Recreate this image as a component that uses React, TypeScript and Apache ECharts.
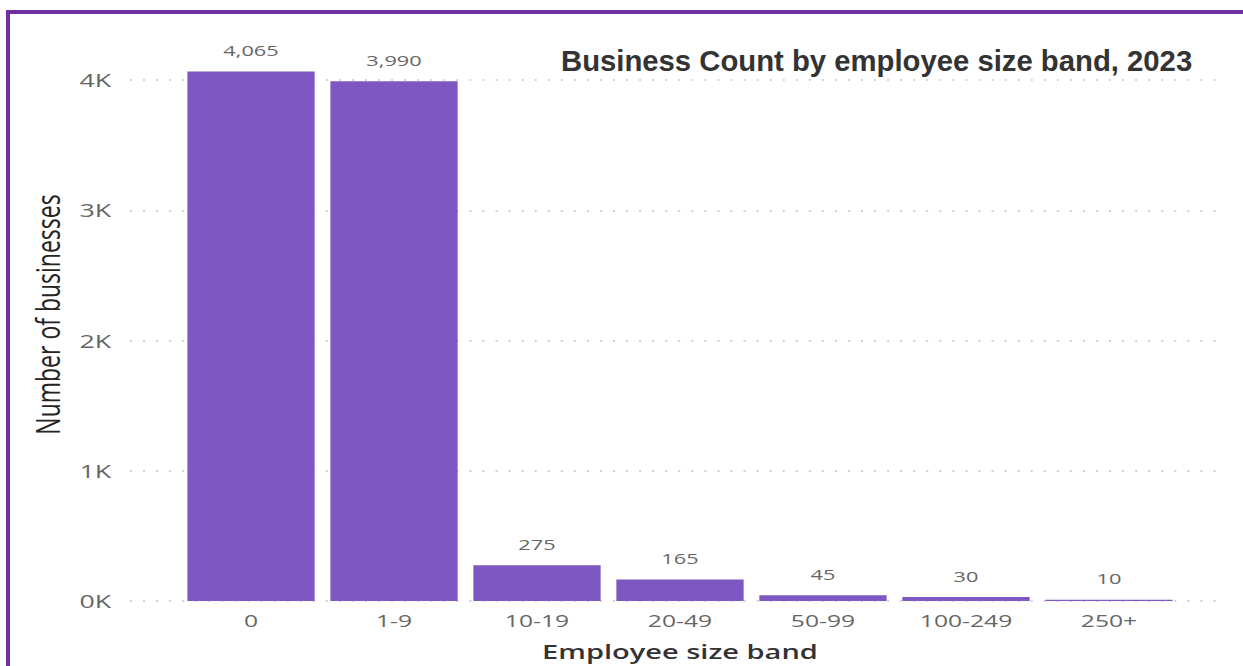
import React, { useEffect, useRef } from "react";
import * as echarts from "echarts";

const categories = ["0", "1-9", "10-19", "20-49", "50-99", "100-249", "250+"];
const businessCounts = [4065, 3990, 275, 165, 45, 30, 10];
const yMin = 0;
const yMax = 4000;
const yInterval = 1000;

const chartTitle = "Business Count by employee size band, 2023";
const xTitle = "Employee size band";
const yTitle = "Number of businesses";

const FULL_W = 1243;
const FULL_H = 666;
const INNER_W = 857;
const S = FULL_W / INNER_W; // horizontal stretch of the original picture
const px = (v: number) => v / S;

export default function App() {
  const ref = useRef<HTMLDivElement>(null);

  useEffect(() => {
    if (!ref.current) return;
    const chart = echarts.init(ref.current, null, { renderer: "svg" });
    const tickFont = "'Segoe UI', 'Open Sans', sans-serif";
    chart.setOption({
      animation: false,
      backgroundColor: "#ffffff",
      grid: [
        { left: px(130), right: INNER_W - px(1224), top: 80, bottom: 65 },
        { left: px(179.5), right: INNER_W - px(1180.5), top: 80, bottom: 65 },
      ],
      xAxis: [
        { gridIndex: 0, type: "value", show: false, min: 0, max: 1 },
        {
          gridIndex: 1,
          type: "category",
          data: categories,
          axisLine: { show: false },
          axisTick: { show: false },
          axisLabel: { color: "#666666", fontSize: 17, fontFamily: tickFont, margin: 11 },
          name: xTitle,
          nameLocation: "middle",
          nameGap: 40,
          nameTextStyle: { color: "#333333", fontSize: 20, fontWeight: 600, fontFamily: tickFont },
        },
      ],
      yAxis: [
        {
          gridIndex: 0,
          type: "value",
          min: yMin,
          max: yMax,
          interval: yInterval,
          axisLine: { show: false },
          axisTick: { show: false },
          axisLabel: {
            color: "#666666",
            fontSize: 18.5,
            fontFamily: tickFont,
            margin: 13,
            formatter: (v: number) => `${v / 1000}K`,
          },
          splitLine: { lineStyle: { type: [1.4, 7.6], color: "#c4c4c4", width: 1.5 } },
          name: yTitle,
          nameLocation: "middle",
          nameRotate: 90,
          nameGap: 45,
          nameTextStyle: { color: "#252423", fontSize: 23, fontFamily: tickFont, padding: [0, 0, 0, 52] },
        },
        { gridIndex: 1, type: "value", min: yMin, max: yMax, show: false, splitLine: { show: false } },
      ],
      series: [
        {
          type: "bar",
          xAxisIndex: 1,
          yAxisIndex: 1,
          data: businessCounts,
          barWidth: "89%",
          clip: false,
          itemStyle: { color: "#7e57c2" },
          label: {
            show: true,
            position: "top",
            distance: 14,
            color: "#666666",
            fontSize: 15,
            fontFamily: tickFont,
            formatter: (p: any) => Number(p.value).toLocaleString("en-US"),
          },
        },
      ],
      graphic: [
        { type: "rect", shape: { x: px(6), y: 10, width: INNER_W, height: 4 }, style: { fill: "#7030a0" } },
        { type: "rect", shape: { x: px(6), y: 10, width: px(4), height: 700 }, style: { fill: "#7030a0" } },
        {
          type: "text",
          x: px(561),
          y: 60,
          scaleX: 1 / S,
          style: {
            text: chartTitle,
            fontSize: 29.3,
            fontWeight: "bold",
            fontFamily: "'Liberation Sans', Arial, sans-serif",
            fill: "#333333",
            align: "left",
            verticalAlign: "middle",
          },
        },
      ],
    });
    return () => chart.dispose();
  }, []);

  return (
    <div style={{ position: "absolute", left: 0, top: 0, width: FULL_W, height: FULL_H, overflow: "hidden", background: "#fff" }}>
      <div
        ref={ref}
        style={{ width: INNER_W, height: FULL_H, transform: `scaleX(${S})`, transformOrigin: "0 0" }}
      />
    </div>
  );
}
